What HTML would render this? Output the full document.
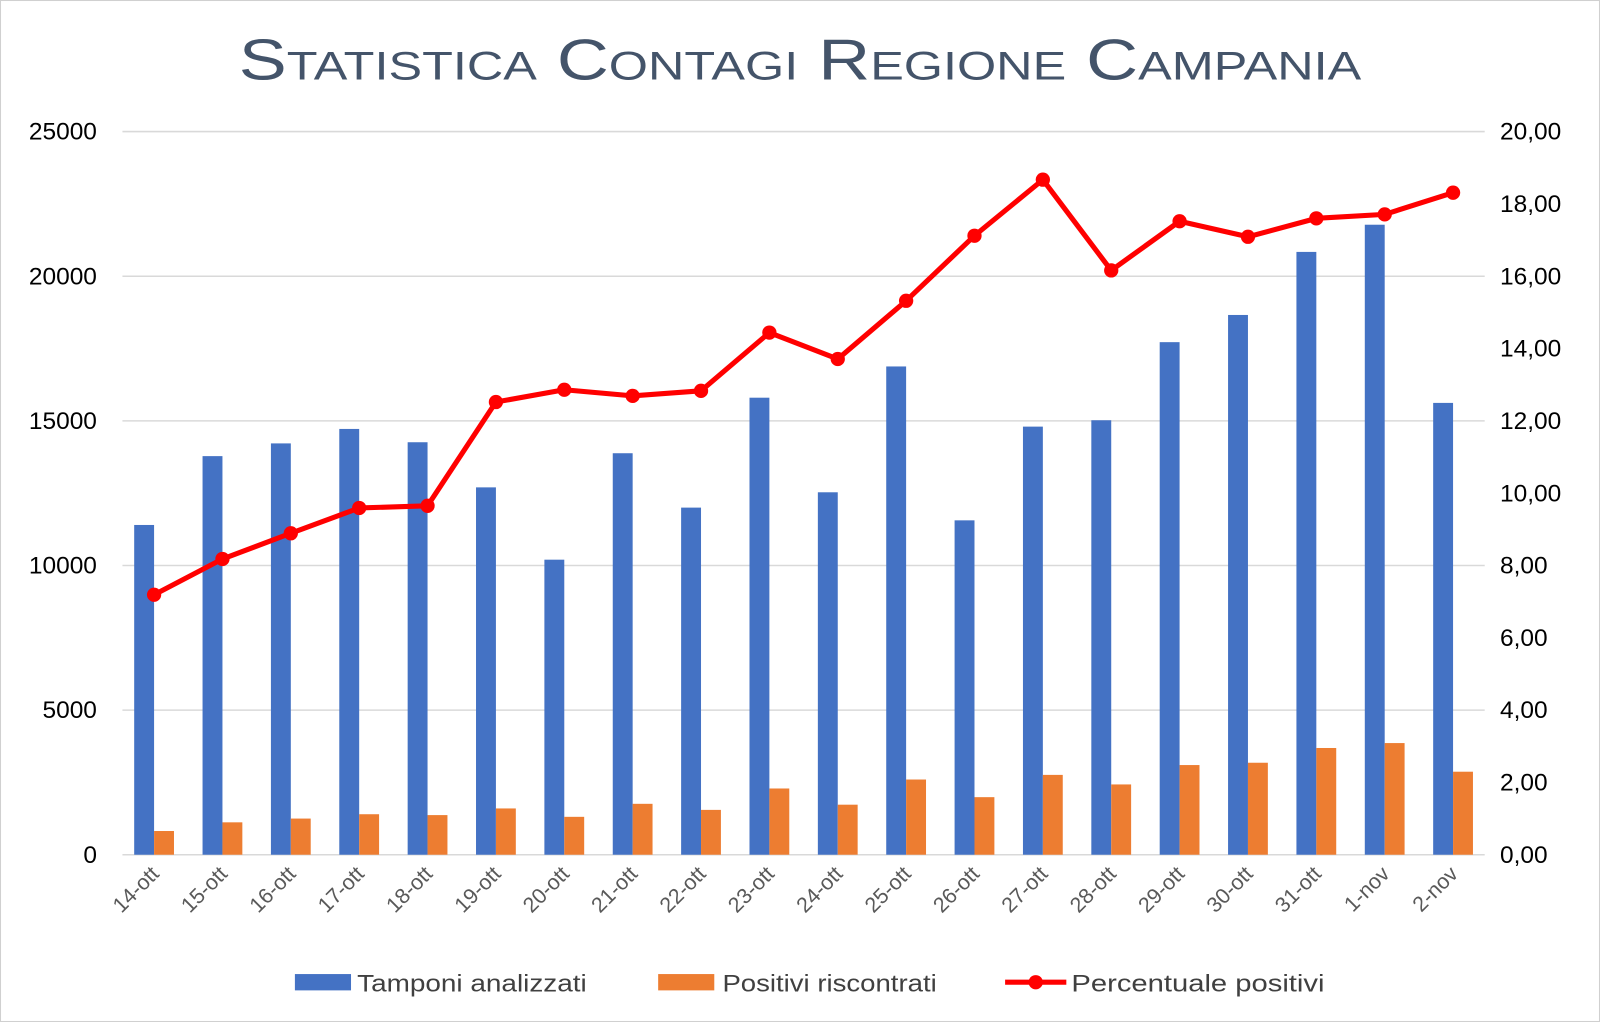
<!DOCTYPE html>
<html><head><meta charset="utf-8"><style>
body{margin:0;background:#fff;}
svg text{font-family:"Liberation Sans",Arial,sans-serif;}
</style></head><body>
<svg id="chart" width="1600" height="1022" viewBox="0 0 1568 1002" preserveAspectRatio="none" xmlns="http://www.w3.org/2000/svg">
<rect x="0.5" y="0.5" width="1567" height="1001" fill="#fff" stroke="#d0d0d0"/>
<text x="784" y="78" text-anchor="middle" font-size="56" fill="#44546a" style="font-variant:small-caps" textLength="1100" lengthAdjust="spacingAndGlyphs">Statistica Contagi Regione Campania</text>
<g id="grid"></g><g id="bars"></g><g id="line"></g><g id="axes"></g>
<g>
<rect x="289" y="955" width="55" height="16" fill="#4472c4"/>
<text x="350" y="972" font-size="24" fill="#404040" textLength="225" lengthAdjust="spacingAndGlyphs">Tamponi analizzati</text>
<rect x="645" y="955" width="55" height="16" fill="#ed7d31"/>
<text x="708" y="972" font-size="24" fill="#404040" textLength="210" lengthAdjust="spacingAndGlyphs">Positivi riscontrati</text>
<line x1="985" y1="963" x2="1045" y2="963" stroke="#ff0000" stroke-width="5"/>
<circle cx="1015" cy="963" r="7" fill="#ff0000"/>
<text x="1050" y="972" font-size="24" fill="#404040" textLength="248" lengthAdjust="spacingAndGlyphs">Percentuale positivi</text>
</g>
</svg>
<script>
const categories=["14-ott","15-ott","16-ott","17-ott","18-ott","19-ott","20-ott","21-ott","22-ott","23-ott","24-ott","25-ott","26-ott","27-ott","28-ott","29-ott","30-ott","31-ott","1-nov","2-nov"];
const tamponi=[11400,13780,14220,14720,14260,12700,10200,13880,12000,15800,12530,16880,11560,14800,15020,17720,18660,20840,21780,15620];
const positivi=[820,1120,1250,1400,1370,1600,1310,1760,1550,2290,1730,2600,1990,2760,2430,3100,3180,3690,3860,2870];
const percentuale=[7.19,8.18,8.89,9.59,9.65,12.52,12.86,12.69,12.83,14.44,13.71,15.32,17.12,18.67,16.16,17.52,17.09,17.60,17.71,18.31];
const leftTicks=[0,5000,10000,15000,20000,25000];
const rightTicks=["0,00","2,00","4,00","6,00","8,00","10,00","12,00","14,00","16,00","18,00","20,00"];
const NS="http://www.w3.org/2000/svg";
const X0=117.5,X1=1457.5,Y0=838,Y1=129;
const step=(X1-X0)/categories.length;
const xc=i=>X0+step*(i+0.5);
const yL=v=>Y0-(v/25000)*(Y0-Y1);
const yR=v=>Y0-(v/20)*(Y0-Y1);
function mk(tag,attrs,parent){const e=document.createElementNS(NS,tag);for(const k in attrs)e.setAttribute(k,attrs[k]);document.getElementById(parent).appendChild(e);return e;}
leftTicks.forEach((t,i)=>{
  const y=yL(t);
  const g=mk("line",{x1:120,x2:1455,y1:y,y2:y,stroke:"#d9d9d9","stroke-width":1.5},"grid");
  
  
  const tx=mk("text",{x:95,y:y+8,"text-anchor":"end","font-size":24,fill:"#000"},"axes");
  tx.textContent=t;
  
  
});
rightTicks.forEach((t,i)=>{
  const y=yR(i*2);
  const tx=mk("text",{x:1470,y:y+8,"font-size":24,fill:"#000"},"axes");
  tx.textContent=t;
  
  
});
const bw=19.5;
categories.forEach((c,i)=>{
  const cx=xc(i);
  const b=mk("rect",{x:cx-bw,y:yL(tamponi[i]),width:bw,height:Y0-yL(tamponi[i]),fill:"#4472c4"},"bars");
  
  
  const o=mk("rect",{x:cx,y:yL(positivi[i]),width:bw,height:Y0-yL(positivi[i]),fill:"#ed7d31"},"bars");
  
  
  const t=mk("text",{x:cx+6,y:858,"text-anchor":"end","font-size":21,fill:"#595959",transform:`rotate(-45 ${cx+6} 858)`},"axes");
  t.textContent=c;
  
  
});
const pts=percentuale.map((v,i)=>xc(i)+","+yR(v)).join(" ");
const pl=mk("polyline",{points:pts,fill:"none",stroke:"#ff0000","stroke-width":5,"stroke-linejoin":"round"},"line");


percentuale.forEach((v,i)=>{
  const p=mk("circle",{cx:xc(i),cy:yR(v),r:7,fill:"#ff0000"},"line");
  
  
});
</script>
</body></html>
